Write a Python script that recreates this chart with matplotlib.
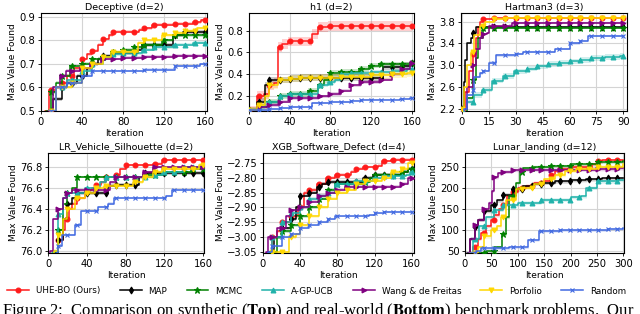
import numpy as np
import matplotlib
matplotlib.use('Agg')
import matplotlib.pyplot as plt
from matplotlib.lines import Line2D

plt.rcParams['mathtext.fontset'] = 'stix'

# method labels, colours, markers
methods = ['UHE-BO (Ours)', 'MAP', 'MCMC', 'A-GP-UCB', 'Wang & de Freitas', 'Porfolio', 'Random']
colors = ['#ff1a1a', 'black', 'green', 'lightseagreen', 'purple', 'gold', 'royalblue']
markers = ['o', 'd', '*', '^', '>', 'v', 'x']

# each series: list of (iteration, best value) knots of a step curve
deceptive = {
    'UHE-BO (Ours)': [(4, 0.50), (8, 0.59), (15, 0.60), (20, 0.62), (25, 0.65), (32, 0.68), (40, 0.72), (45, 0.74), (50, 0.756), (55, 0.78), (60, 0.805), (66, 0.82), (70, 0.835), (95, 0.845), (100, 0.85), (108, 0.865), (130, 0.87), (148, 0.875), (156, 0.885), (160, 0.886)],
    'MAP': [(8, 0.50), (12, 0.55), (20, 0.60), (25, 0.62), (35, 0.65), (45, 0.68), (50, 0.70), (55, 0.72), (60, 0.735), (68, 0.745), (94, 0.76), (98, 0.78), (128, 0.82), (138, 0.835), (160, 0.835)],
    'MCMC': [(5, 0.50), (10, 0.58), (15, 0.62), (20, 0.65), (28, 0.69), (40, 0.70), (50, 0.72), (58, 0.73), (68, 0.75), (80, 0.76), (90, 0.77), (100, 0.78), (118, 0.80), (128, 0.82), (160, 0.82)],
    'A-GP-UCB': [(8, 0.50), (15, 0.60), (25, 0.63), (40, 0.67), (50, 0.70), (60, 0.73), (70, 0.74), (80, 0.745), (98, 0.76), (110, 0.77), (128, 0.78), (148, 0.79), (160, 0.79)],
    'Wang & de Freitas': [(7, 0.50), (12, 0.60), (18, 0.65), (24, 0.67), (38, 0.68), (48, 0.70), (58, 0.72), (80, 0.725), (100, 0.73), (128, 0.735), (160, 0.735)],
    'Porfolio': [(8, 0.50), (15, 0.60), (30, 0.62), (40, 0.68), (50, 0.70), (60, 0.73), (68, 0.75), (94, 0.79), (100, 0.80), (118, 0.82), (130, 0.83), (140, 0.84), (152, 0.85), (160, 0.85)],
    'Random': [(8, 0.50), (15, 0.60), (25, 0.62), (40, 0.65), (50, 0.67), (100, 0.675), (130, 0.69), (155, 0.70), (160, 0.70)],
}

h1 = {
    'UHE-BO (Ours)': [(0, 0.07), (8, 0.20), (15, 0.22), (20, 0.30), (25, 0.32), (28, 0.65), (32, 0.68), (38, 0.70), (62, 0.77), (68, 0.83), (78, 0.84), (110, 0.845), (160, 0.845)],
    'MAP': [(0, 0.07), (8, 0.15), (16, 0.30), (20, 0.35), (40, 0.36), (50, 0.37), (132, 0.47), (150, 0.48), (158, 0.50), (160, 0.50)],
    'MCMC': [(0, 0.07), (10, 0.10), (20, 0.15), (30, 0.20), (40, 0.22), (58, 0.25), (68, 0.30), (74, 0.35), (80, 0.41), (90, 0.42), (108, 0.45), (118, 0.48), (128, 0.49), (158, 0.50), (160, 0.50)],
    'A-GP-UCB': [(0, 0.07), (10, 0.10), (16, 0.15), (30, 0.20), (38, 0.22), (68, 0.30), (78, 0.33), (84, 0.35), (90, 0.40), (100, 0.41), (120, 0.42), (140, 0.43), (155, 0.45), (160, 0.45)],
    'Wang & de Freitas': [(0, 0.07), (10, 0.10), (20, 0.12), (30, 0.15), (40, 0.18), (68, 0.20), (80, 0.22), (90, 0.25), (100, 0.30), (110, 0.33), (130, 0.35), (140, 0.40), (150, 0.45), (158, 0.50), (160, 0.50)],
    'Porfolio': [(0, 0.07), (8, 0.12), (16, 0.20), (20, 0.30), (28, 0.35), (40, 0.36), (50, 0.37), (90, 0.38), (120, 0.39), (140, 0.40), (155, 0.41), (160, 0.41)],
    'Random': [(0, 0.07), (20, 0.08), (30, 0.09), (40, 0.10), (62, 0.14), (80, 0.15), (100, 0.16), (110, 0.17), (148, 0.175), (158, 0.18), (160, 0.18)],
}

hartman3 = {
    'UHE-BO (Ours)': [(0, 2.15), (2, 2.50), (4, 2.90), (6, 3.21), (8, 3.50), (9, 3.70), (10, 3.80), (12, 3.85), (18, 3.86), (90, 3.86)],
    'MAP': [(0, 2.20), (1, 2.70), (2, 3.10), (3, 3.40), (5, 3.50), (6, 3.60), (8, 3.71), (90, 3.71)],
    'MCMC': [(1, 2.10), (3, 2.40), (6, 2.73), (8, 3.14), (9, 3.50), (12, 3.68), (15, 3.69), (90, 3.69)],
    'A-GP-UCB': [(0, 2.20), (3, 2.33), (7, 2.45), (11, 2.55), (17, 2.72), (23, 2.80), (29, 2.89), (36, 2.94), (42, 2.98), (48, 3.02), (54, 3.05), (60, 3.07), (66, 3.10), (72, 3.13), (80, 3.15), (88, 3.17), (90, 3.17)],
    'Wang & de Freitas': [(0, 2.20), (3, 2.60), (6, 3.00), (8, 3.30), (10, 3.50), (12, 3.58), (14, 3.60), (15, 3.72), (26, 3.73), (28, 3.78), (90, 3.78)],
    'Porfolio': [(0, 2.20), (1, 2.60), (3, 3.00), (5, 3.25), (7, 3.55), (10, 3.72), (13, 3.80), (18, 3.85), (25, 3.86), (90, 3.86)],
    'Random': [(1, 2.20), (3, 2.45), (6, 2.55), (7, 2.78), (10, 2.85), (12, 2.90), (15, 3.05), (19, 3.18), (30, 3.20), (34, 3.25), (52, 3.30), (60, 3.40), (66, 3.45), (70, 3.54), (90, 3.54)],
}

vehicle = {
    'UHE-BO (Ours)': [(5, 75.98), (10, 76.10), (15, 76.20), (18, 76.30), (22, 76.40), (25, 76.45), (30, 76.50), (38, 76.58), (45, 76.60), (50, 76.63), (55, 76.65), (60, 76.70), (70, 76.72), (74, 76.78), (80, 76.82), (108, 76.83), (118, 76.86), (160, 76.86)],
    'MAP': [(5, 75.98), (10, 76.10), (15, 76.30), (20, 76.45), (25, 76.50), (30, 76.55), (62, 76.62), (70, 76.63), (94, 76.70), (100, 76.74), (160, 76.74)],
    'MCMC': [(4, 75.98), (10, 76.20), (15, 76.45), (20, 76.55), (25, 76.60), (30, 76.70), (98, 76.72), (118, 76.75), (148, 76.78), (160, 76.78)],
    'A-GP-UCB': [(5, 76.00), (10, 76.35), (15, 76.50), (20, 76.55), (38, 76.60), (54, 76.65), (60, 76.70), (108, 76.72), (118, 76.75), (140, 76.80), (158, 76.82), (160, 76.82)],
    'Wang & de Freitas': [(2, 76.00), (5, 76.30), (10, 76.40), (15, 76.50), (20, 76.55), (25, 76.58), (64, 76.65), (70, 76.70), (98, 76.75), (108, 76.80), (160, 76.80)],
    'Porfolio': [(6, 76.00), (10, 76.15), (15, 76.30), (20, 76.40), (28, 76.50), (38, 76.55), (48, 76.60), (58, 76.62), (88, 76.65), (98, 76.70), (108, 76.75), (118, 76.78), (156, 76.82), (160, 76.82)],
    'Random': [(8, 75.98), (10, 76.05), (14, 76.15), (28, 76.25), (34, 76.38), (52, 76.42), (62, 76.45), (68, 76.50), (122, 76.52), (128, 76.58), (160, 76.58)],
}

xgb = {
    'UHE-BO (Ours)': [(5, -3.05), (10, -3.00), (15, -2.98), (20, -2.95), (30, -2.93), (38, -2.90), (44, -2.85), (50, -2.84), (58, -2.82), (68, -2.80), (78, -2.79), (95, -2.78), (100, -2.77), (108, -2.765), (124, -2.76), (128, -2.745), (138, -2.74), (160, -2.74)],
    'MAP': [(5, -3.05), (12, -3.00), (20, -2.97), (30, -2.94), (36, -2.90), (40, -2.86), (50, -2.85), (58, -2.83), (64, -2.82), (70, -2.815), (108, -2.80), (118, -2.79), (148, -2.78), (156, -2.77), (160, -2.77)],
    'MCMC': [(8, -3.05), (15, -3.00), (20, -2.98), (30, -2.96), (40, -2.93), (50, -2.90), (60, -2.87), (70, -2.84), (78, -2.82), (108, -2.815), (115, -2.80), (120, -2.79), (148, -2.78), (156, -2.77), (160, -2.77)],
    'A-GP-UCB': [(5, -3.05), (10, -3.00), (20, -2.95), (30, -2.92), (40, -2.90), (50, -2.87), (60, -2.86), (70, -2.85), (78, -2.82), (98, -2.81), (118, -2.80), (128, -2.795), (154, -2.79), (158, -2.78), (160, -2.78)],
    'Wang & de Freitas': [(3, -3.05), (5, -3.00), (15, -2.97), (25, -2.93), (30, -2.91), (40, -2.90), (50, -2.88), (60, -2.86), (70, -2.85), (80, -2.84), (88, -2.83), (148, -2.82), (156, -2.80), (160, -2.80)],
    'Porfolio': [(10, -3.05), (28, -3.00), (35, -2.99), (40, -2.96), (50, -2.93), (60, -2.90), (70, -2.87), (80, -2.85), (90, -2.84), (100, -2.82), (110, -2.81), (128, -2.80), (138, -2.78), (148, -2.77), (156, -2.75), (160, -2.75)],
    'Random': [(5, -3.05), (10, -3.03), (20, -3.00), (30, -2.99), (40, -2.97), (50, -2.96), (60, -2.95), (70, -2.94), (78, -2.93), (114, -2.925), (120, -2.92), (130, -2.915), (160, -2.915)],
}

lunar = {
    'UHE-BO (Ours)': [(5, 45), (15, 60), (25, 80), (30, 93), (40, 110), (50, 125), (55, 135), (65, 150), (72, 160), (80, 180), (90, 190), (100, 200), (115, 205), (130, 212), (150, 215), (160, 230), (170, 240), (180, 245), (200, 250), (240, 255), (250, 262), (260, 265), (300, 265)],
    'MAP': [(3, 45), (10, 80), (18, 108), (25, 125), (36, 145), (50, 160), (60, 170), (72, 184), (90, 196), (110, 203), (130, 210), (150, 212), (170, 215), (200, 218), (230, 220), (260, 222), (300, 222)],
    'MCMC': [(20, 45), (40, 50), (55, 60), (70, 90), (78, 130), (84, 180), (96, 212), (105, 236), (110, 246), (130, 250), (160, 252), (200, 255), (250, 260), (300, 262)],
    'A-GP-UCB': [(5, 45), (15, 80), (27, 109), (40, 130), (54, 148), (72, 160), (100, 165), (144, 172), (200, 178), (220, 180), (230, 200), (250, 215), (290, 218), (300, 218)],
    'Wang & de Freitas': [(5, 45), (10, 80), (18, 112), (25, 125), (36, 150), (45, 165), (51, 193), (54, 225), (63, 234), (72, 238), (90, 242), (100, 243), (250, 244), (290, 246), (300, 246)],
    'Porfolio': [(10, 45), (25, 60), (36, 85), (50, 100), (60, 109), (69, 132), (78, 172), (96, 196), (110, 200), (130, 210), (150, 220), (170, 230), (190, 240), (210, 245), (250, 250), (300, 255)],
    'Random': [(10, 45), (20, 50), (30, 57), (84, 60), (120, 77), (140, 97), (150, 98), (180, 100), (270, 103), (300, 105)],
}

# shaded band half-width (std) per method, per panel
deceptive_std = [0.006, 0.008, 0.006, 0.006, 0.006, 0.007, 0.005]
h1_std = [0.045, 0.03, 0.025, 0.02, 0.015, 0.03, 0.008]
hartman3_std = [0.01, 0.01, 0.02, 0.05, 0.02, 0.01, 0.02]
vehicle_std = [0.01, 0.015, 0.008, 0.01, 0.01, 0.015, 0.01]
xgb_std = [0.004, 0.006, 0.004, 0.004, 0.004, 0.004, 0.003]
lunar_std = [4, 4, 3, 4, 4, 4, 3]

panels = [
    ('Deceptive (d=2)', deceptive, deceptive_std, 160, 10, (0, 161.5), (0.5, 0.915), [0.5, 0.6, 0.7, 0.8, 0.9], [0, 40, 80, 120, 160]),
    ('h1 (d=2)', h1, h1_std, 160, 10, (0, 162), (0.065, 0.96), [0.2, 0.4, 0.6, 0.8], [0, 40, 80, 120, 160]),
    ('Hartman3 (d=3)', hartman3, hartman3_std, 90, 6, (-0.5, 92), (2.16, 3.96), [2.2, 2.6, 3.0, 3.4, 3.8], [0, 15, 30, 45, 60, 75, 90]),
    ('LR_Vehicle_Silhouette (d=2)', vehicle, vehicle_std, 160, 10, (0, 161), (75.98, 76.93), [76.0, 76.2, 76.4, 76.6, 76.8], [0, 40, 80, 120, 160]),
    ('XGB_Software_Defect (d=4)', xgb, xgb_std, 160, 10, (0, 162.5), (-3.052, -2.718), [-3.05, -3.0, -2.95, -2.9, -2.85, -2.8, -2.75], [0, 40, 80, 120, 160]),
    ('Lunar_landing (d=12)', lunar, lunar_std, 300, 18, (0, 301), (46, 282), [50, 100, 150, 200, 250], [0, 50, 100, 150, 200, 250, 300]),
]

# axes boxes in pixels (left, top, width, height)
W, H = 640, 314
boxes = [
    (41, 13, 166, 98), (249, 13, 165, 98), (461, 13, 166, 98),
    (48, 153, 156, 100), (263, 153, 151, 100), (465, 153, 159, 100),
]

fig = plt.figure(figsize=(6.4, 3.14), dpi=100)


def step_values(knots, n):
    xs = np.arange(n + 1)
    kx = np.array([k[0] for k in knots])
    ky = np.array([k[1] for k in knots], dtype=float)
    idx = np.searchsorted(kx, xs, side='right') - 1
    vals = ky[np.clip(idx, 0, None)]
    vals[idx < 0] = np.nan
    return xs, vals


for (title, data, std, n, mevery, xlim, ylim, yticks, xticks), (l, t, w, h) in zip(panels, boxes):
    ax = fig.add_axes([l / W, 1 - (t + h) / H, w / W, h / H])
    for i, m in enumerate(methods):
        xs, ys = step_values(data[m], n)
        # before the first knot the curve sits below the visible range
        ys = np.where(np.isnan(ys), ylim[0] - (ylim[1] - ylim[0]), ys)
        ax.fill_between(xs, ys - std[i], ys + std[i], step='post', color=colors[i], alpha=0.2, lw=0)
        ax.plot(xs, ys, drawstyle='steps-post', color=colors[i], lw=1.1,
                marker=markers[i], markevery=mevery, ms=3.5 if markers[i] != '*' else 4.5,
                mew=0.8, zorder=3)
    ax.set_xlim(*xlim)
    ax.set_ylim(*ylim)
    ax.set_xticks(xticks)
    ax.set_yticks(yticks)
    ax.grid(True, color='#d4d4d4', lw=0.8)
    ax.set_axisbelow(True)
    ax.tick_params(labelsize=7.2, length=2.5, width=0.6, pad=1.5)
    ax.set_title(title, fontsize=6.8, pad=2.5)
    ax.set_xlabel('Iteration', fontsize=6.5, labelpad=1.5)
    ax.set_ylabel('Max Value Found', fontsize=6.5, labelpad=1.5)
    for s in ax.spines.values():
        s.set_linewidth(0.8)

handles = [Line2D([], [], color=c, marker=mk, lw=1.1, ms=3.5 if mk != '*' else 4.5, mew=0.8)
           for c, mk in zip(colors, markers)]
fig.legend(handles, methods, loc='center', bbox_to_anchor=(0.495, 1 - 291 / H), ncol=7,
           frameon=False, fontsize=6.3, handlelength=2.5, columnspacing=2.2, handletextpad=0.8)

caption = r'Figure 2:  Comparison on synthetic ($\mathbf{Top}$) and real-world ($\mathbf{Bottom}$) benchmark problems.  Our'
fig.text(0.003, -0.004, caption, fontsize=12, family='Liberation Serif', va='baseline')

fig.savefig('out.png', dpi=100)
